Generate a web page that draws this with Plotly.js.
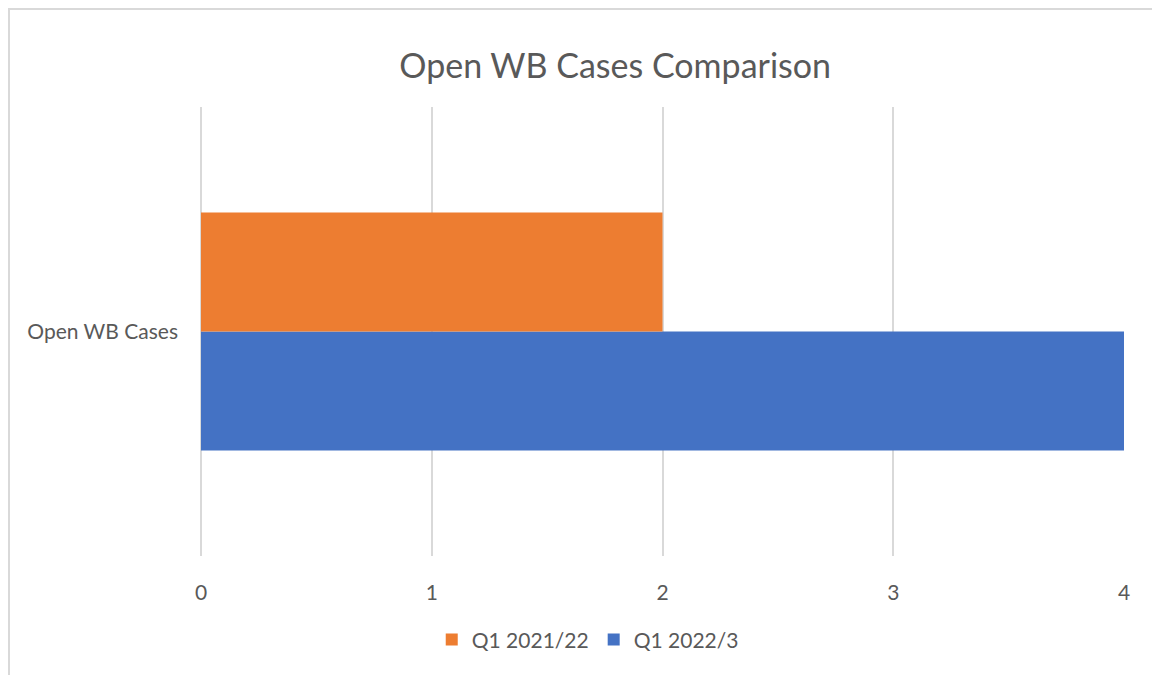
<!DOCTYPE html>
<html>
<head>
<meta charset="utf-8">
<script src="https://cdn.plot.ly/plotly-3.0.1.min.js"></script>
<style>
  html, body { margin: 0; padding: 0; background: #fff; }
  #wrap { position: relative; width: 1152px; height: 675px; }
  #frame { position: absolute; left: 8px; top: 8px; width: 1144px; height: 667px;
           border-left: 2px solid #d9d9d9; border-top: 2px solid #d9d9d9; box-sizing: border-box; pointer-events: none; }
  #chart { position: absolute; left: 0; top: 0; width: 1152px; height: 675px; }
</style>
</head>
<body>
<div id="wrap">
  <div id="chart"></div>
  <div id="frame"></div>
</div>
<script>
const categories = ["Open WB Cases"];
const seriesNames = ["Q1 2021/22", "Q1 2022/3"];
const q1_2021_22 = [2];
const q1_2022_3 = [4];
const xTicks = [0, 1, 2, 3, 4];

const font = "Lato, 'Open Sans', sans-serif";
const traces = [
  { type: "bar", orientation: "h", name: seriesNames[1], y: categories, x: q1_2022_3,
    marker: { color: "#4472C4" }, hoverinfo: "x+name" },
  { type: "bar", orientation: "h", name: seriesNames[0], y: categories, x: q1_2021_22,
    marker: { color: "#ED7D31" }, hoverinfo: "x+name" }
];

const layout = {
  width: 1152, height: 675,
  paper_bgcolor: "rgba(0,0,0,0)", plot_bgcolor: "#fff",
  margin: { l: 201, r: 28, t: 107, b: 119, pad: 0 },
  font: { family: font, color: "#595959", size: 21 },
  title: { text: "Open WB Cases Comparison", x: 0.534, xanchor: "center", y: 1 - 66/675, yanchor: "middle",
           font: { family: font, size: 34, color: "#595959" } },
  barmode: "group", bargap: 0.47, bargroupgap: 0,
  xaxis: { range: [0, 4], tickvals: xTicks, showgrid: true, gridcolor: "#d9d9d9", gridwidth: 1.5,
           zeroline: true, zerolinecolor: "#d9d9d9", zerolinewidth: 1.5,
           showline: false, ticks: "", tickfont: { size: 21, color: "#595959" },
           ticklabelstandoff: 22, fixedrange: true },
  yaxis: { type: "category", range: [-0.5, 0.5], showgrid: false, zeroline: false, showline: false,
           ticks: "", ticklabelstandoff: 22, tickfont: { size: 21, color: "#595959" }, fixedrange: true },
  showlegend: true,
  legend: { orientation: "h", traceorder: "reversed", x: 0.419, xanchor: "center", y: -0.187, yanchor: "middle",
            font: { size: 21, color: "#595959" }, itemwidth: 30, bgcolor: "rgba(0,0,0,0)" }
};

Plotly.newPlot("chart", traces, layout, { displayModeBar: false, staticPlot: false });
</script>
</body>
</html>
